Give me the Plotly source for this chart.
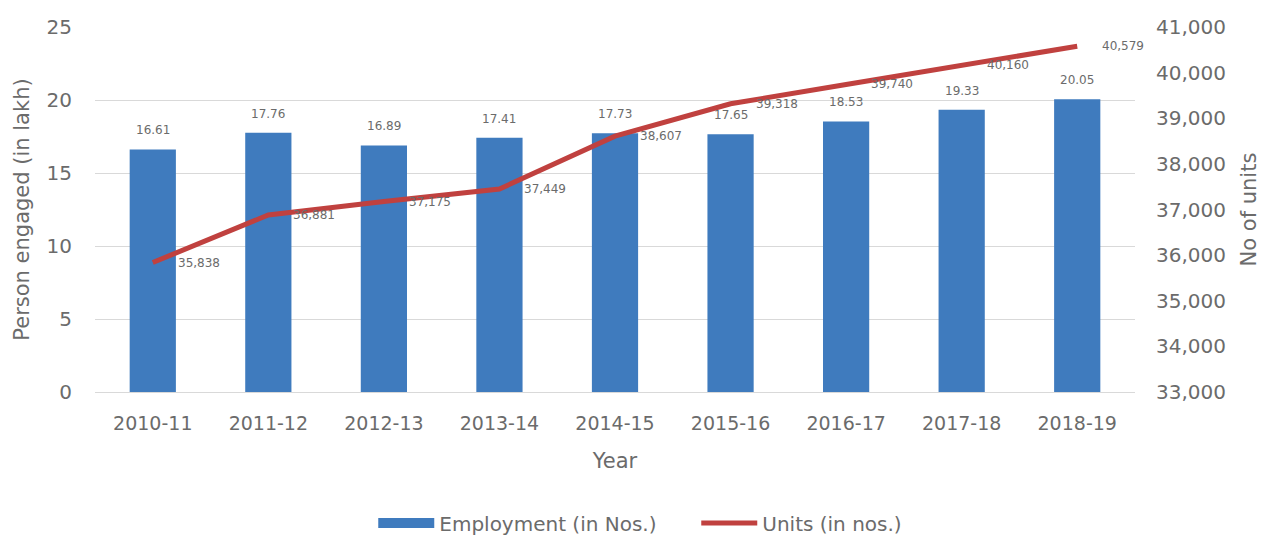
import plotly.graph_objects as go

years = ["2010-11", "2011-12", "2012-13", "2013-14", "2014-15",
         "2015-16", "2016-17", "2017-18", "2018-19"]
employment = [16.61, 17.76, 16.89, 17.41, 17.73, 17.65, 18.53, 19.33, 20.05]
units = [35838, 36881, 37175, 37449, 38607, 39318, 39740, 40160, 40579]

bar_color = "#3F7BBE"
line_color = "#C0413F"
txt = "#6B6B6B"
FONT = "DejaVu Sans"

fig = go.Figure()
fig.add_trace(go.Bar(
    x=years, y=employment, name="Employment (in Nos.)",
    marker=dict(color=bar_color, line=dict(width=0)),
    yaxis="y", showlegend=False,
))
# legend proxy drawn as a wide blue swatch (like the reference legend)
fig.add_trace(go.Scatter(
    x=[None], y=[None], name="Employment (in Nos.)", mode="lines",
    line=dict(color=bar_color, width=13), yaxis="y",
))
fig.add_trace(go.Scatter(
    x=years, y=units, name="Units (in nos.)", mode="lines",
    line=dict(color=line_color, width=5),
    yaxis="y2",
))

for yr, v in zip(years, employment):
    fig.add_annotation(x=yr, y=v, xref="x", yref="y", text=f"{v:.2f}",
                       showarrow=False, yanchor="bottom", yshift=10,
                       font=dict(size=12, color=txt, family=FONT))
for yr, v in zip(years, units):
    fig.add_annotation(x=yr, y=v, xref="x", yref="y2", text=f"{v:,}",
                       showarrow=False, xanchor="left", yanchor="middle",
                       xshift=23, yshift=0,
                       font=dict(size=12, color=txt, family=FONT))

fig.update_layout(
    width=1261, height=537,
    margin=dict(l=95, r=126, t=27, b=145, autoexpand=False),
    paper_bgcolor="white", plot_bgcolor="white",
    font=dict(family=FONT, color=txt),
    bargap=0.6,
    showlegend=True,
    legend=dict(orientation="h", xref="container", yref="container",
                x=0.296, xanchor="left", y=0.026, yanchor="middle",
                font=dict(size=20, color=txt, family=FONT), itemwidth=56,
                entrywidth=252, entrywidthmode="pixels"),
    xaxis=dict(
        type="category", automargin=False, range=[-0.5, len(years) - 0.5],
        tickfont=dict(size=19, color=txt, family=FONT),
        title=dict(text="Year", font=dict(size=21, color=txt, family=FONT), standoff=20),
        showline=True, linecolor="#D9D9D9", linewidth=1,
        showgrid=False, ticks="", ticklabelstandoff=14,
    ),
    yaxis=dict(
        range=[0, 25], dtick=5, automargin=False,
        tickfont=dict(size=20, color=txt, family=FONT),
        title=dict(text="Person engaged (in lakh)", font=dict(size=21, color=txt, family=FONT), standoff=11),
        showgrid=True, gridcolor="#D9D9D9", gridwidth=1,
        zeroline=False, showline=False, ticks="", ticklabelstandoff=22,
    ),
    yaxis2=dict(
        range=[33000, 41000], dtick=1000, overlaying="y", side="right",
        tickformat=",d", automargin=False,
        tickfont=dict(size=20, color=txt, family=FONT),
        title=dict(text="No of units", font=dict(size=21, color=txt, family=FONT), standoff=17),
        showgrid=False, zeroline=False, showline=False, ticks="", ticklabelstandoff=20,
    ),
)

fig.write_html("out.html", config={"displayModeBar": False},
               post_script="document.body.style.margin='0';")
